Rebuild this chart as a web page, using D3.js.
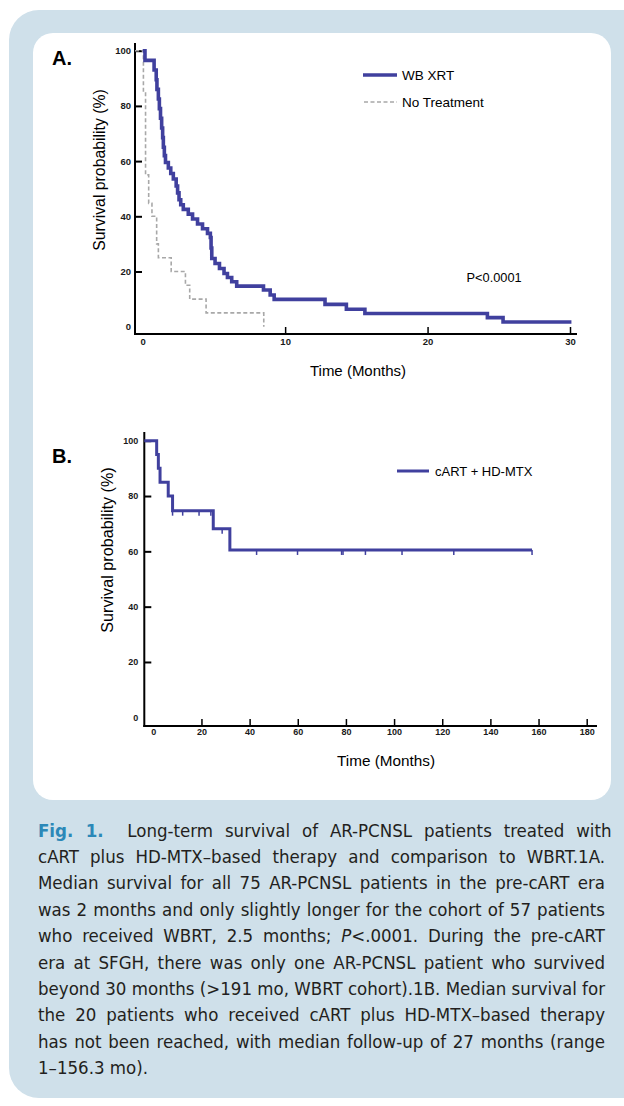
<!DOCTYPE html>
<html>
<head>
<meta charset="utf-8">
<script src="https://cdn.jsdelivr.net/npm/d3@7"></script>
<style>
  html, body { margin: 0; padding: 0; background: #ffffff; }
  svg { display: block; }
</style>
</head>
<body>
<svg id="fig" width="624" height="1106"></svg>
<script>
// ---------- DATA ----------
// Panel A: WB XRT (Kaplan-Meier, step times in months / survival %)
const wbTime = [0, 0.16, 0.8, 0.95, 1.0, 1.1, 1.17, 1.25, 1.33, 1.4, 1.45, 1.52, 1.6, 1.8, 1.97, 2.15, 2.35, 2.45, 2.55, 2.67, 2.85, 3.2, 3.5, 3.85, 4.2, 4.55, 4.75, 4.8, 4.85, 5.08, 5.39, 5.71, 5.95, 6.25, 6.6, 8.48, 8.95, 9.23, 12.8, 14.3, 15.6, 24.2, 25.3, 30.1];
const wbSurv = [100, 96.5, 93.0, 89.5, 86.0, 82.5, 79.0, 75.5, 72.0, 68.5, 65.0, 62.0, 59.5, 57.5, 55.5, 53.5, 51.0, 48.5, 46.0, 44.2, 42.5, 40.8, 39.0, 37.2, 35.5, 33.8, 32.3, 28.5, 24.7, 22.9, 21.1, 19.3, 17.8, 16.3, 14.7, 13.3, 11.5, 9.9, 8.1, 6.3, 4.8, 3.3, 1.7, 1.7];
// Panel A: No Treatment
const ntTime = [0, 0.05, 0.2, 0.42, 0.65, 0.98, 1.1, 2.0, 3.0, 3.3, 4.45, 8.5];
const ntSurv = [100, 85, 55, 44.7, 40, 30, 25, 20, 15, 10, 5, 0];
// Panel B: cART + HD-MTX
const bTime = [0, 1.4, 2.1, 2.8, 6.2, 8.0, 24.9, 31.8, 157.3];
const bSurv = [100, 95, 90, 85, 80, 74.7, 68.2, 60.5, 60.5];
const bCensor = [8.0, 12.2, 19.0, 23.9, 28.6, 42.9, 59.9, 78.2, 78.8, 88.1, 103.3, 124.8, 157.3];
// Tick labels
const yTicks = [0, 20, 40, 60, 80, 100];
const xTicksA = [0, 10, 20, 30];
const xTicksB = [0, 20, 40, 60, 80, 100, 120, 140, 160, 180];
// Caption lines
const captionLines = [
  [{t: "Fig. 1.", b: true}, {t: "\u00a0 Long-term survival of AR-PCNSL patients treated with"}],
  [{t: "cART plus HD-MTX\u2013based therapy and comparison to WBRT.1A."}],
  [{t: "Median survival for all 75 AR-PCNSL patients in the pre-cART era"}],
  [{t: "was 2 months and only slightly longer for the cohort of 57 patients"}],
  [{t: "who received WBRT, 2.5 months; "}, {t: "P", i: true}, {t: "<.0001. During the pre-cART"}],
  [{t: "era at SFGH, there was only one AR-PCNSL patient who survived"}],
  [{t: "beyond 30 months (>191 mo, WBRT cohort).1B. Median survival for"}],
  [{t: "the 20 patients who received cART plus HD-MTX\u2013based therapy"}],
  [{t: "has not been reached, with median follow-up of 27 months (range"}],
  [{t: "1\u2013156.3 mo)."}]
];

// ---------- STYLE ----------
const BLUE = "#40409e";
const GRAY = "#a8a8a8";
const BG = "#cfe0ea";
const FONT = "'Liberation Sans', Arial, Helvetica, sans-serif";

const svg = d3.select("#fig");

// Background frames
svg.append("rect").attr("x", 0).attr("y", 0).attr("width", 624).attr("height", 1106).attr("fill", "#fff");
svg.append("rect").attr("x", 9).attr("y", 10).attr("width", 660).attr("height", 1088).attr("rx", 30).attr("fill", BG);
svg.append("rect").attr("x", 33).attr("y", 33).attr("width", 578).attr("height", 767).attr("rx", 20).attr("fill", "#fff");

function stepPath(xs, ys, times, surv, startX) {
  const pts = times.map((t, i) => [xs(t), ys(surv[i])]);
  const d = d3.line().curve(d3.curveStepAfter)(pts);
  if (startX === undefined) return d;
  return "M" + startX + "," + ys(surv[0]) + "L" + d.slice(1);
}

function drawAxes(g, xs, ys, xTicks, opts) {
  // y axis
  const yAx = g.append("g").attr("transform", `translate(${opts.axX},0)`)
    .call(d3.axisLeft(ys).tickValues(yTicks).tickSize(-7).tickPadding(opts.yPad));
  yAx.select(".domain").remove();
  yAx.selectAll(".tick line").attr("stroke", "#000").attr("stroke-width", 2).filter(d => d === 0).remove();
  yAx.selectAll(".tick text").attr("font-family", FONT).attr("font-size", opts.fs).attr("font-weight", "bold").attr("fill", "#1a1a1a");
  // x axis
  const xAx = g.append("g").attr("transform", `translate(0,${opts.axY})`)
    .call(d3.axisBottom(xs).tickValues(xTicks).tickSize(-7).tickPadding(opts.xPad));
  xAx.select(".domain").remove();
  xAx.selectAll(".tick line").attr("stroke", "#000").attr("stroke-width", 1.5).filter(d => d === 0).remove();
  xAx.selectAll(".tick text").attr("font-family", FONT).attr("font-size", opts.fs).attr("font-weight", "bold").attr("fill", "#1a1a1a");
  // axis lines
  g.append("line").attr("x1", opts.axX).attr("x2", opts.axX).attr("y1", opts.yTop).attr("y2", opts.axY + 1)
    .attr("stroke", "#000").attr("stroke-width", 2);
  g.append("line").attr("x1", opts.axX - 1).attr("x2", opts.xEnd).attr("y1", opts.axY).attr("y2", opts.axY)
    .attr("stroke", "#000").attr("stroke-width", 2);
}

// ---------- PANEL A ----------
const gA = svg.append("g");
const xA = d3.scaleLinear().domain([0, 30]).range([142.7, 570]);
const yA = d3.scaleLinear().domain([0, 100]).range([326.7, 50.7]);
drawAxes(gA, xA, yA, xTicksA, {axX: 135, axY: 334, yTop: 43, xEnd: 577, fs: 9.5, yPad: 4, xPad: 4});

gA.append("path").attr("d", stepPath(xA, yA, ntTime, ntSurv, 135))
  .attr("fill", "none").attr("stroke", GRAY).attr("stroke-width", 1.6).attr("stroke-dasharray", "4,2.5");
gA.append("path").attr("d", stepPath(xA, yA, wbTime, wbSurv))
  .attr("fill", "none").attr("stroke", BLUE).attr("stroke-width", 3.6);

gA.append("text").attr("x", 52).attr("y", 64.5).text("A.")
  .attr("font-family", FONT).attr("font-size", 20).attr("font-weight", "bold").attr("fill", "#000");
gA.append("text").attr("transform", "translate(105,170) rotate(-90)").attr("text-anchor", "middle")
  .text("Survival probability (%)").attr("font-family", FONT).attr("font-size", 15.8).attr("fill", "#000");
gA.append("text").attr("x", 358).attr("y", 375.5).attr("text-anchor", "middle")
  .text("Time (Months)").attr("font-family", FONT).attr("font-size", 15).attr("fill", "#000");
gA.append("text").attr("x", 466.5).attr("y", 281.5).text("P<0.0001")
  .attr("font-family", FONT).attr("font-size", 12.8).attr("fill", "#000");
// legend A
gA.append("line").attr("x1", 363).attr("x2", 397).attr("y1", 75).attr("y2", 75).attr("stroke", BLUE).attr("stroke-width", 3.6);
gA.append("text").attr("x", 402).attr("y", 80).text("WB XRT").attr("font-family", FONT).attr("font-size", 13.5).attr("fill", "#000");
gA.append("line").attr("x1", 364).attr("x2", 397).attr("y1", 102).attr("y2", 102).attr("stroke", GRAY).attr("stroke-width", 1.6).attr("stroke-dasharray", "4,2.5");
gA.append("text").attr("x", 402).attr("y", 107).text("No Treatment").attr("font-family", FONT).attr("font-size", 13.5).attr("fill", "#000");

// ---------- PANEL B ----------
const gB = svg.append("g");
const xB = d3.scaleLinear().domain([0, 180]).range([153.3, 586.7]);
const yB = d3.scaleLinear().domain([0, 100]).range([717.3, 440.7]);
drawAxes(gB, xB, yB, xTicksB, {axX: 144.3, axY: 726, yTop: 432, xEnd: 597, fs: 9, yPad: 6, xPad: 3});

gB.append("path").attr("d", stepPath(xB, yB, bTime, bSurv, 144.3))
  .attr("fill", "none").attr("stroke", BLUE).attr("stroke-width", 3);
const survAt = t => { let s = bSurv[0]; bTime.forEach((bt, i) => { if (bt <= t) s = bSurv[i]; }); return s; };
gB.selectAll(".cens").data(bCensor).enter().append("line")
  .attr("x1", d => xB(d)).attr("x2", d => xB(d))
  .attr("y1", d => yB(survAt(d))).attr("y2", d => yB(survAt(d)) + 5)
  .attr("stroke", BLUE).attr("stroke-width", 1.5);

gB.append("text").attr("x", 52).attr("y", 463).text("B.")
  .attr("font-family", FONT).attr("font-size", 20).attr("font-weight", "bold").attr("fill", "#000");
gB.append("text").attr("transform", "translate(113,550) rotate(-90)").attr("text-anchor", "middle")
  .text("Survival probability (%)").attr("font-family", FONT).attr("font-size", 16.2).attr("fill", "#000");
gB.append("text").attr("x", 386).attr("y", 765.5).attr("text-anchor", "middle")
  .text("Time (Months)").attr("font-family", FONT).attr("font-size", 15.3).attr("fill", "#000");
gB.append("line").attr("x1", 397).attr("x2", 429).attr("y1", 471).attr("y2", 471).attr("stroke", BLUE).attr("stroke-width", 3);
gB.append("text").attr("x", 435).attr("y", 475.5).text("cART + HD-MTX").attr("font-family", FONT).attr("font-size", 13).attr("fill", "#000");

// ---------- CAPTION ----------
const capFont = "'Liberation Sans Narrow', 'DejaVu Sans Condensed', 'Roboto', sans-serif";
const capX = 38, capR = 605, capY0 = 836.5, capLH = 26.4;
captionLines.forEach((parts, i) => {
  const t = svg.append("text").attr("x", capX).attr("y", capY0 + i * capLH)
    .attr("font-family", capFont).attr("font-size", 18.5).attr("fill", "#231f20");
  parts.forEach(p => {
    const ts = t.append("tspan").text(p.t);
    if (p.b) ts.attr("font-weight", "bold").attr("fill", "#2b88b8");
    if (p.i) ts.attr("font-style", "italic");
  });
  if (i < captionLines.length - 1) {
    const full = parts.map(p => p.t).join("");
    const nSp = (full.match(/ /g) || []).length;
    const w = t.node().getComputedTextLength();
    if (nSp > 0) t.attr("word-spacing", ((capR - capX) - w) / nSp);
  }
});
</script>
</body>
</html>
